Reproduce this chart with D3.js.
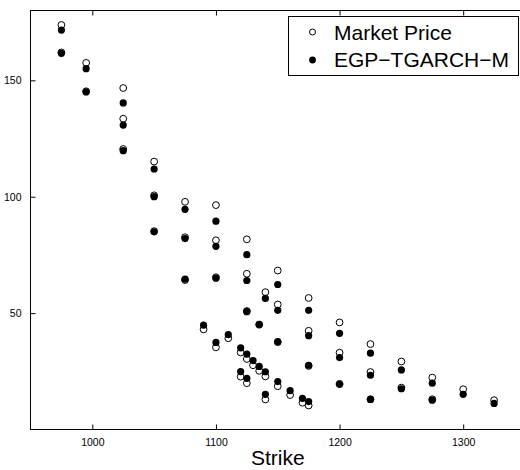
<!DOCTYPE html>
<html><head><meta charset="utf-8">
<script src="https://cdn.jsdelivr.net/npm/d3@7"></script>
<style>body{margin:0;background:#fff}svg{display:block}text{font-family:"Liberation Sans",Arial,Helvetica,sans-serif}</style>
</head><body>
<svg id="c" width="520" height="470"></svg>
<script>
const strikes = [975,975, 995,995, 1025,1025,1025, 1050,1050,1050, 1075,1075,1075, 1090, 1100,1100,1100,1100, 1110, 1120,1120, 1125,1125,1125,1125,1125, 1130, 1135,1135, 1140,1140,1140, 1150,1150,1150,1150, 1160, 1170, 1175,1175,1175,1175, 1200,1200,1200, 1225,1225,1225, 1250,1250, 1275,1275, 1300, 1325];
const marketPrice = [173.8,162.0, 157.5,145.3, 146.7,133.5,120.5, 115.1,100.6,85.2, 97.8,82.6,64.2, 43.0, 96.4,81.3,65.4,35.3, 39.2, 33.1,22.7, 81.7,66.9,50.9,30.3,19.9, 27.6, 45.0,25.2, 59.0,22.8,12.9, 68.3,53.7,37.5,18.6, 14.8, 11.5, 56.5,42.4,27.3,10.3, 46.0,33.0,19.6, 36.7,24.7,13.0, 29.2,18.0, 22.3,13.0, 17.3, 12.6];
const modelPrice = [171.6,161.6, 155.0,145.0, 140.3,130.8,119.8, 111.9,100.0,84.9, 94.6,82.0,64.6, 44.8, 89.5,78.7,65.0,37.4, 40.8, 35.1,24.9, 75.1,64.0,50.6,32.4,22.0, 29.6, 45.2,27.1, 56.3,24.8,15.1, 62.3,51.2,37.8,20.6, 16.7, 13.4, 51.2,40.3,27.6,12.0, 41.3,30.9,19.4, 32.8,23.3,12.9, 25.6,17.5, 19.9,12.6, 15.1, 11.2];
const xTicks = [1000,1100,1200,1300];
const yTicks = [50,100,150];
const seriesNames = ["Market Price","EGP\u2212TGARCH\u2212M"];
const xLabel = "Strike";

const svg = d3.select("#c");
const L=30.5, R=525, T=10.5, B=429.5;
const x = d3.scaleLinear().domain([950,1350]).range([L,R]);
const y = d3.scaleLinear().domain([0,180]).range([B,T]);

// frame
svg.append("rect").attr("x",L).attr("y",T).attr("width",R-L).attr("height",B-T)
  .attr("fill","none").attr("stroke","#000").attr("stroke-width",1);

// axes
const xa = svg.append("g").attr("transform",`translate(0,${B})`)
  .call(d3.axisBottom(x).tickValues(xTicks).tickSize(-5).tickPadding(9).tickFormat(d3.format("d")));
const xt = svg.append("g").attr("transform",`translate(0,${T})`)
  .call(d3.axisTop(x).tickValues(xTicks).tickSize(-5).tickFormat(""));
const ya = svg.append("g").attr("transform",`translate(${L},0)`)
  .call(d3.axisLeft(y).tickValues(yTicks).tickSize(-5).tickPadding(9).tickFormat(d3.format("d")));
[xa,xt,ya].forEach(g=>{g.select(".domain").remove();g.selectAll("line").attr("stroke","#000");
  g.selectAll("text").attr("font-size",10.5).attr("fill","#000").style("font-family","'Liberation Sans',Arial,sans-serif");});

svg.append("text").attr("x",(L+R)/2).attr("y",465).attr("text-anchor","middle")
  .attr("font-size",21).text(xLabel);

// points
const idx = d3.range(strikes.length);
svg.append("g").selectAll("circle").data(idx).join("circle")
  .attr("cx",i=>x(strikes[i])).attr("cy",i=>y(marketPrice[i])).attr("r",3.4)
  .attr("fill","#fff").attr("stroke","#000").attr("stroke-width",1);
svg.append("g").selectAll("circle").data(idx).join("circle")
  .attr("cx",i=>x(strikes[i])).attr("cy",i=>y(modelPrice[i])).attr("r",3.6)
  .attr("fill","#000");

// legend
const lg = svg.append("g");
lg.append("rect").attr("x",288.5).attr("y",16.5).attr("width",230).attr("height",59)
  .attr("fill","#fff").attr("stroke","#000").attr("stroke-width",1);
lg.append("circle").attr("cx",312.5).attr("cy",32).attr("r",3).attr("fill","#fff").attr("stroke","#000");
lg.append("circle").attr("cx",312.5).attr("cy",60).attr("r",3.4).attr("fill","#000");
lg.append("text").attr("x",334).attr("y",40).attr("font-size",21).text(seriesNames[0]);
lg.append("text").attr("x",334).attr("y",66.5).attr("font-size",21).text(seriesNames[1]);
</script>
</body></html>
